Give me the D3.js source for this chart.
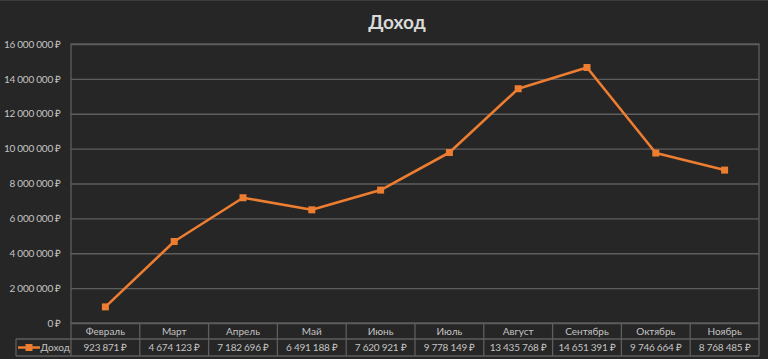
<!DOCTYPE html>
<html><head><meta charset="utf-8">
<script src="https://cdn.jsdelivr.net/npm/d3@7"></script>
<style>
html,body{margin:0;padding:0;background:#262626;}
svg{display:block;}
text{font-family:"Lato","Open Sans",sans-serif;}
.sm{letter-spacing:-0.25px;}
</style></head>
<body>
<svg id="c" width="768" height="359"></svg>
<script>
const months = ["Февраль","Март","Апрель","Май","Июнь","Июль","Август","Сентябрь","Октябрь","Ноябрь"];
const income = [923871,4674123,7182696,6491188,7620921,9778149,13435768,14651391,9746664,8768485];
const yTicks = [0,2000000,4000000,6000000,8000000,10000000,12000000,14000000,16000000];
const seriesName = "Доход";
const titleText = "Доход";

const fmt = v => d3.format(",")(v).replace(/,/g, "\u00a0") + "\u00a0₽";

const svg = d3.select("#c");
const W = 768, H = 359;
const L = 71, R = 759, T = 44, B = 323;
const row1 = 339, row2 = 356, legL = 16;
const grid = "#5e5e5e", txt = "#c4c4c4", orange = "#ED7D31";
const fs = 10;

svg.append("rect").attr("width",W).attr("height",H).attr("fill","#262626");
svg.append("line").attr("x1",0).attr("x2",W).attr("y1",0.5).attr("y2",0.5).attr("stroke","#3c3c3c");

svg.append("text").attr("x",397).attr("y",29).attr("text-anchor","middle")
  .attr("font-size",19).attr("font-weight","bold").attr("fill","#d9d9d9").text(titleText);

const x = d3.scaleBand().domain(months).range([L,R]).padding(0);
const y = d3.scaleLinear().domain([0,16000000]).range([B,T]);

const yAxis = d3.axisLeft(y).tickValues(yTicks).tickFormat(fmt).tickSize(-(R-L)).tickPadding(10);
const ga = svg.append("g").attr("transform",`translate(${L},0)`).call(yAxis);
ga.select(".domain").remove();
ga.selectAll(".tick line").attr("stroke",grid).attr("stroke-width",1.3);
ga.selectAll(".tick text").attr("fill",txt).attr("font-size",fs).attr("x",-10).attr("class","sm");

svg.append("rect").attr("x",L).attr("y",T).attr("width",R-L).attr("height",B-T)
  .attr("fill","none").attr("stroke",grid).attr("stroke-width",1.3);

const tb = svg.append("g").attr("stroke",grid).attr("stroke-width",1.3).attr("fill","none");
tb.append("line").attr("x1",L).attr("x2",R).attr("y1",row1).attr("y2",row1);
tb.append("line").attr("x1",legL).attr("x2",R).attr("y1",row2).attr("y2",row2);
tb.append("line").attr("x1",legL).attr("x2",L).attr("y1",row1).attr("y2",row1);
tb.append("line").attr("x1",legL).attr("x2",legL).attr("y1",row1).attr("y2",row2);
tb.append("line").attr("x1",L).attr("x2",L).attr("y1",B).attr("y2",row2);
months.forEach(m => {
  tb.append("line").attr("x1",x(m)+x.bandwidth()).attr("x2",x(m)+x.bandwidth()).attr("y1",B).attr("y2",row2);
});
svg.append("g").selectAll("text.h").data(months).join("text")
  .attr("x",d=>x(d)+x.bandwidth()/2).attr("y",(B+row1)/2+3.5)
  .attr("text-anchor","middle").attr("fill",txt).attr("font-size",fs).text(d=>d);
svg.append("g").selectAll("text.v").data(income).join("text").attr("class","sm")
  .attr("x",(d,i)=>x(months[i])+x.bandwidth()/2).attr("y",(row1+row2)/2+3.5)
  .attr("text-anchor","middle").attr("fill",txt).attr("font-size",fs).text(d=>fmt(d));

const ly = (row1+row2)/2;
svg.append("line").attr("x1",18).attr("x2",40).attr("y1",ly).attr("y2",ly).attr("stroke",orange).attr("stroke-width",2.5);
svg.append("rect").attr("x",25.5).attr("y",ly-3.5).attr("width",7).attr("height",7).attr("fill",orange);
svg.append("text").attr("x",40.5).attr("y",ly+3.5).attr("fill",txt).attr("font-size",fs).text(seriesName);

const cx = d => x(d)+x.bandwidth()/2;
const line = d3.line().x((d,i)=>cx(months[i])).y(d=>y(d));
svg.append("path").datum(income).attr("d",line).attr("fill","none")
  .attr("stroke",orange).attr("stroke-width",2.6).attr("stroke-linejoin","round");
svg.append("g").selectAll("rect").data(income).join("rect")
  .attr("x",(d,i)=>cx(months[i])-3.5).attr("y",d=>y(d)-3.5)
  .attr("width",7).attr("height",7).attr("fill",orange);
</script>
</body></html>
